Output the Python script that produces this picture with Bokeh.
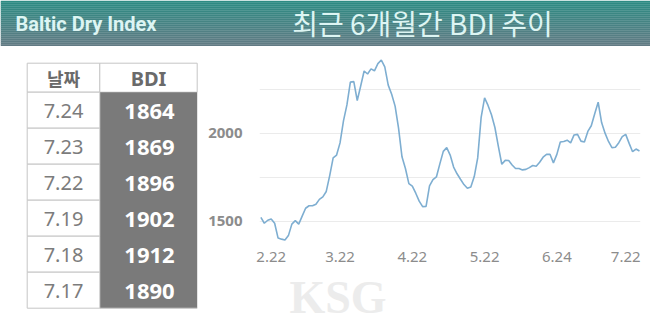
from bokeh.plotting import figure
from bokeh.layouts import column, row
from bokeh.models import Range1d, FixedTicker, Title
from bokeh.core.properties import value
from bokeh.embed import file_html
from bokeh.resources import INLINE

# ---------------- data ----------------
header_left = "Baltic Dry Index"
header_title = "최근 6개월간 BDI 추이"

table_headers = ["날짜", "BDI"]
table_dates = ["7.24", "7.23", "7.22", "7.19", "7.18", "7.17"]
table_bdi = [1864, 1869, 1896, 1902, 1912, 1890]

bdi_series = [
    1523, 1490, 1507, 1514, 1490, 1406, 1400, 1395, 1420, 1485,
    1505, 1485, 1530, 1575, 1589, 1589, 1598, 1625, 1639, 1670,
    1760, 1860, 1876, 1945, 2070, 2160, 2289, 2292, 2185, 2267,
    2352, 2335, 2364, 2353, 2394, 2414, 2375, 2272, 2220, 2153,
    2028, 1866, 1800, 1714, 1700, 1660, 1615, 1584, 1585, 1702,
    1737, 1752, 1826, 1897, 1918, 1876, 1808, 1770, 1739, 1709,
    1688, 1695, 1754, 1860, 2090, 2200, 2157, 2104, 2032, 1925,
    1824, 1846, 1845, 1820, 1800, 1800, 1792, 1795, 1805, 1817,
    1813, 1835, 1864, 1880, 1881, 1832, 1880, 1950, 1953, 1960,
    1945, 1990, 1993, 1955, 1950, 2010, 2042, 2110, 2175, 2060,
    2000, 1953, 1918, 1920, 1946, 1980, 1993, 1942, 1895, 1910,
    1899,
]
tick_index = [3, 23, 44, 65, 86, 106]
tick_labels = ["2.22", "3.22", "4.22", "5.22", "6.24", "7.22"]
grid_values = [1500, 1750, 2000, 2250]
labeled_values = [1500, 2000]
watermark = "KSG"

# ---------------- header band ----------------
HW, HH = 650, 46
hdr = figure(width=HW, height=HH, x_range=Range1d(0, HW), y_range=Range1d(HH, 0),
             x_axis_type=None, y_axis_type=None, toolbar_location=None,
             output_backend="svg", min_border=0)
hdr.outline_line_color = None
hdr.grid.visible = False
c_top = (44, 139, 131)
c_bot = (98, 123, 132)
n = 23
for k in range(n):
    t = k / (n - 1)
    col = tuple(int(round(a + (b - a) * t)) for a, b in zip(c_top, c_bot))
    hdr.quad(left=0, right=HW, top=k * HH / n, bottom=(k + 1) * HH / n + 0.3,
             fill_color="#%02x%02x%02x" % col, line_color=None)
hdr.text(x=[85.5], y=[23.5], text=[header_left], text_align="center",
         text_baseline="middle", text_font=value("Roboto"), text_font_style="bold",
         text_font_size="20px", text_color="#ddf5f3")
hdr.text(x=[422], y=[22.5], text=[header_title], text_align="center",
         text_baseline="middle", text_font=value("Noto Sans CJK KR"),
         text_font_size="28px", text_color="#ddf5f3")

# ---------------- table ----------------
TW, TH = 205, 284
tbl = figure(width=TW, height=TH, x_range=Range1d(0, TW), y_range=Range1d(TH, 0),
             x_axis_type=None, y_axis_type=None, toolbar_location=None,
             output_backend="svg", min_border=0)
tbl.outline_line_color = None
tbl.grid.visible = False
x0, x1, x2 = 26.7, 99.3, 196.7
top0 = 16.7
hdr_h = 29.0
row_h = 36.0
border = "#c6c6c6"
gray = "#7a7a7a"

tbl.quad(left=[x0, x1], right=[x1, x2], top=[top0, top0], bottom=[top0 + hdr_h] * 2,
         fill_color="white", line_color=border, line_width=1)
tbl.text(x=[(x0 + x1) / 2], y=[top0 + hdr_h / 2 + 0.5], text=[table_headers[0]],
         text_align="center", text_baseline="middle",
         text_font=value("Noto Sans CJK KR"), text_font_style="bold",
         text_font_size="18px", text_color="#6a6a6a")
tbl.text(x=[(x1 + x2) / 2], y=[top0 + hdr_h / 2 + 1], text=[table_headers[1]],
         text_align="center", text_baseline="middle",
         text_font=value("Noto Sans"), text_font_style="bold",
         text_font_size="20px", text_color="#6a6a6a")

rows_top = [top0 + hdr_h + i * row_h for i in range(len(table_dates))]
rows_bot = [t + row_h for t in rows_top]
rows_mid = [t + row_h / 2 for t in rows_top]
tbl.quad(left=x1, right=x2, top=rows_top[0], bottom=rows_bot[-1],
         fill_color=gray, line_color=None)
tbl.quad(left=[x0] * len(rows_top), right=[x1] * len(rows_top), top=rows_top,
         bottom=rows_bot, fill_color="white", line_color=border, line_width=1)
tbl.segment(x0=[x1], y0=[rows_bot[-1]], x1=[x2], y1=[rows_bot[-1]],
            line_color=border, line_width=1)
tbl.text(x=[(x0 + x1) / 2] * len(table_dates), y=[m + 0.5 for m in rows_mid],
         text=table_dates, text_align="center", text_baseline="middle",
         text_font=value("Noto Sans"), text_font_size="20px", text_color="#7c7c7c")
tbl.text(x=[(x1 + x2) / 2 + 1] * len(table_bdi), y=[m + 1.5 for m in rows_mid],
         text=[str(v) for v in table_bdi], text_align="center", text_baseline="middle",
         text_font=value("Noto Sans"), text_font_style="bold",
         text_font_size="22px", text_color="white")

# ---------------- line chart ----------------
CW, CH = 445, 284
ch = figure(width=CW, height=CH, x_range=Range1d(-0.4, 110.3),
            y_range=Range1d(1381, 2468), toolbar_location=None,
            output_backend="svg", min_border_left=53, min_border_right=10,
            min_border_top=4, min_border_bottom=88)
ch.outline_line_color = None
ch.background_fill_color = "white"
ch.border_fill_color = "white"

ch.xaxis.ticker = FixedTicker(ticks=tick_index)
ch.xaxis.major_label_overrides = {i: lab for i, lab in zip(tick_index, tick_labels)}
ch.yaxis.ticker = FixedTicker(ticks=grid_values)
ch.yaxis.major_label_overrides = {v: (str(v) if v in labeled_values else "")
                                  for v in grid_values}
for ax in (ch.xaxis, ch.yaxis):
    ax.axis_line_color = None
    ax.major_tick_line_color = None
    ax.minor_tick_line_color = None
    ax.major_label_text_color = "#8c8c8c"
    ax.major_label_text_font = "Noto Sans"
ch.xaxis.major_label_text_font_size = "15px"
ch.xaxis.major_label_standoff = 3
ch.yaxis.major_label_text_font_size = "15px"
ch.yaxis.major_label_text_font_style = "bold"
ch.yaxis.major_label_standoff = 11
ch.xgrid.visible = False
ch.ygrid.grid_line_color = "#ebebeb"
ch.ygrid.grid_line_width = 1

ch.line(x=list(range(len(bdi_series))), y=bdi_series, line_color="#7eaed1",
        line_width=1.6)

ch.add_layout(Title(text=watermark, align="left", offset=30, standoff=10,
                    text_font="Liberation Serif", text_font_style="bold",
                    text_font_size="46px", text_color="#ececec"), "below")

for p in (tbl, ch):
    try:
        p.frame_align = False
    except Exception:
        pass

layout = column(hdr, row(tbl, ch))
open("out.html", "w").write(file_html(layout, INLINE))
